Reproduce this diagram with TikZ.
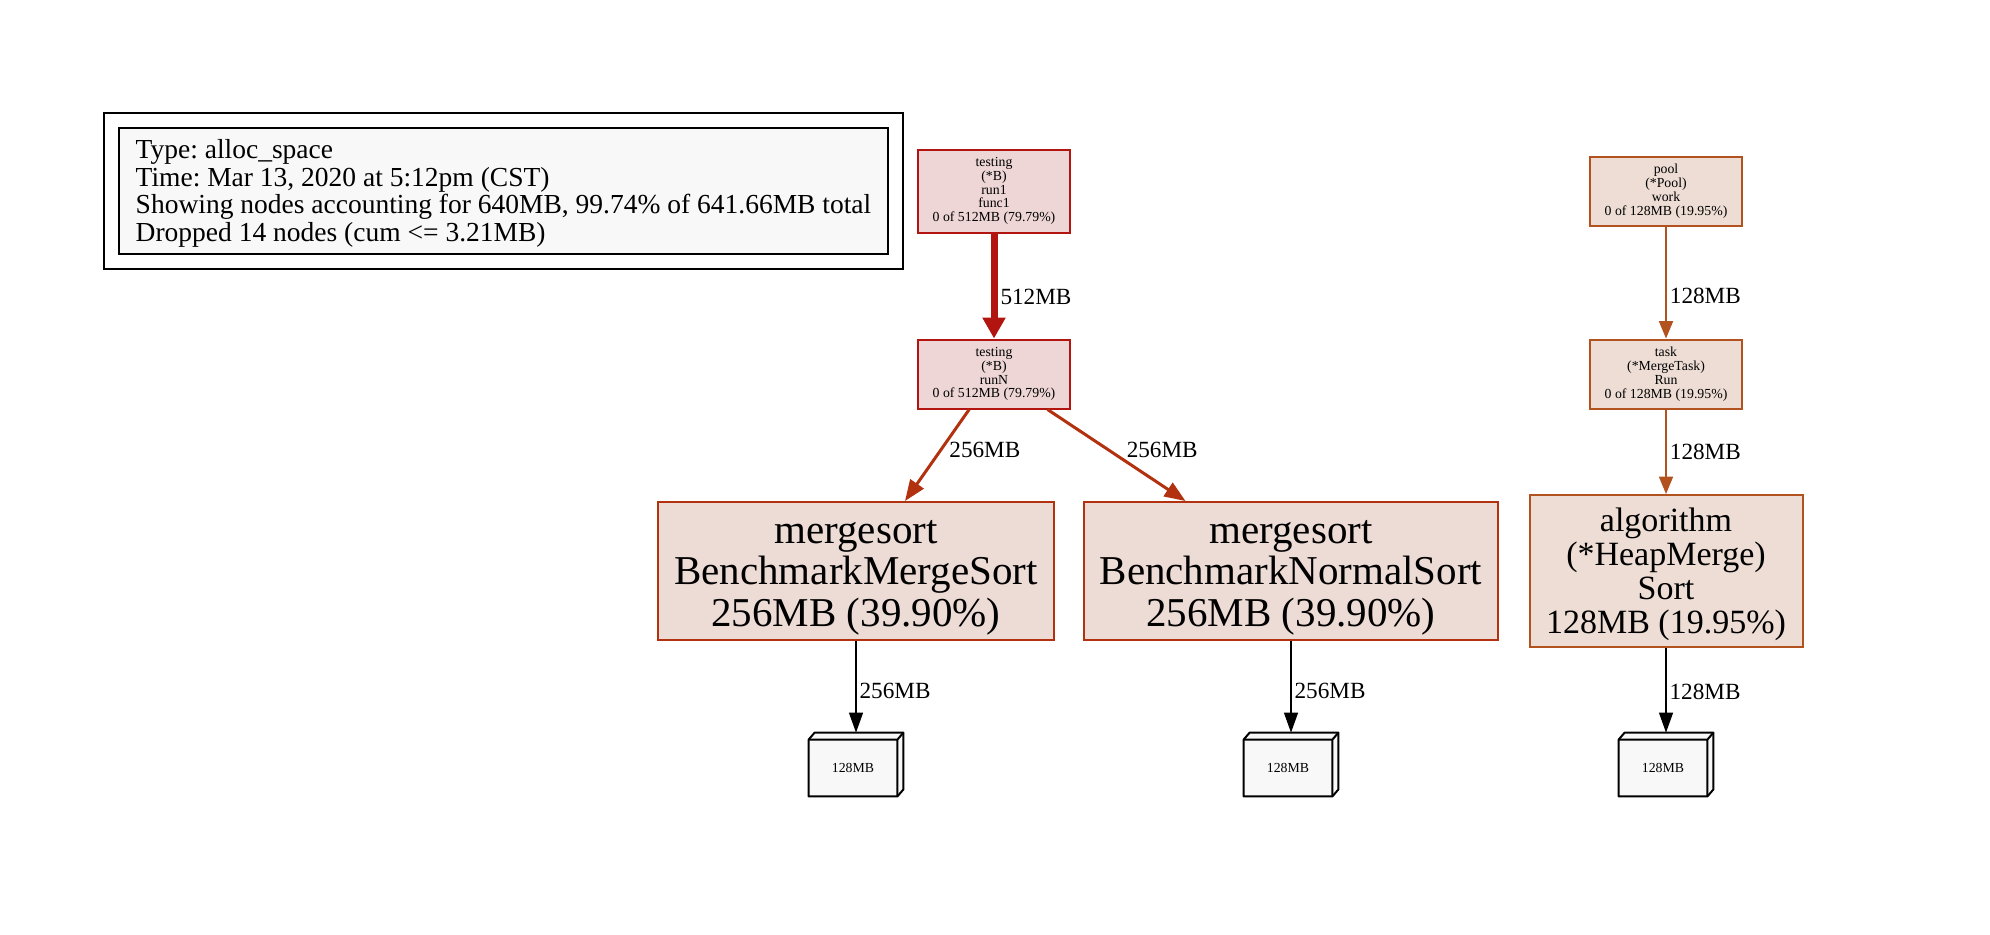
\documentclass[tikz,border=0pt]{standalone}
\usepackage{fontspec}
\setmainfont{Liberation Serif}
\usetikzlibrary{arrows.meta,fit}
\frenchspacing

\definecolor{hotred}{HTML}{B2140F}
\definecolor{hotfill}{HTML}{EDD6D5}
\definecolor{warmred}{HTML}{B2310E}
\definecolor{warmfill}{HTML}{EDDBD5}
\definecolor{mildred}{HTML}{B2531F}
\definecolor{mildfill}{HTML}{EDDDD5}
\definecolor{boxgray}{HTML}{F8F8F8}

\begin{document}
\begin{tikzpicture}[x=0.5pt,y=-0.5pt,node distance=91.5pt,
    small node/.style={line width=1pt,align=center,minimum width=76pt,minimum height=34.5pt,
        inner sep=2pt,font=\fontsize{6.9}{6.9}\selectfont},
    big node/.style={line width=1pt,align=center,minimum height=69pt,inner sep=2pt,
        font=\fontsize{20.5}{20.8}\selectfont},
    hot/.style={draw=hotred,fill=hotfill},
    warm/.style={draw=warmred,fill=warmfill},
    mild/.style={draw=mildred,fill=mildfill},
    leaf/.style={minimum width=47pt,minimum height=31.5pt,inner sep=0pt,
        font=\fontsize{6.9}{6.9}\selectfont},
    hot edge/.style={draw=hotred,line width=3.5pt,-{Triangle[length=10.5pt,width=11pt]}},
    warm edge/.style={draw=warmred,line width=1.5pt,-{Triangle[length=10.5pt,width=8pt]}},
    mild edge/.style={draw=mildred,line width=0.9pt,-{Triangle[length=8.7pt,width=7pt]}},
    plain edge/.style={draw=black,line width=0.6pt,-{Triangle[length=10pt,width=7pt]}}]

    \useasboundingbox (0,0) rectangle (1990,934);

    % Legend
    \node[draw,fill=boxgray,line width=1pt,align=left,minimum width=384.5pt,
          minimum height=62pt,font=\fontsize{13.75}{13.9}\selectfont] (legend) at (503.5,191)
        {\rule{0pt}{11.9pt}Type: alloc\_space\\Time: Mar 13, 2020 at 5:12pm (CST)\\
         Showing nodes accounting for 640MB, 99.74\% of 641.66MB total\\
         Dropped 14 nodes (cum <= 3.21MB)};
    \node[draw,line width=1pt,fit=(legend),inner sep=7pt] (legendframe) {};

    % Define vertices
    \node[small node,hot,minimum height=41.5pt] (func1) at (994,191)
        {testing\\(*B)\\run1\\func1\\0 of 512MB (79.79\%)};
    \node[small node,hot] (runN) [below of=func1]
        {testing\\(*B)\\runN\\0 of 512MB (79.79\%)};
    \node[big node,warm,minimum width=198pt] (msort) at (856,571)
        {\rule{0pt}{18.3pt}mergesort\\BenchmarkMergeSort\\256MB (39.90\%)};
    \node[big node,warm,minimum width=207pt] (nsort) at (1291,571)
        {\rule{0pt}{18.3pt}mergesort\\BenchmarkNormalSort\\256MB (39.90\%)};
    \node[small node,mild] (pool) at (1666,191)
        {pool\\(*Pool)\\work\\0 of 128MB (19.95\%)};
    \node[small node,mild] (task) [below of=pool]
        {task\\(*MergeTask)\\Run\\0 of 128MB (19.95\%)};
    \node[big node,mild,minimum width=136.5pt,minimum height=76pt,
          font=\fontsize{17}{16.9}\selectfont] (heap) [below of=task,node distance=98.5pt]
        {\rule{0pt}{15pt}algorithm\\(*HeapMerge)\\Sort\\128MB (19.95\%)};
    \node[leaf] (leafA) [below of=msort,node distance=96.75pt] {};
    \node[leaf] (leafB) [below of=nsort,node distance=96.75pt] {};
    \node[leaf] (leafC) [below of=heap,node distance=96.75pt] {};

    % Draw the boxes
    \foreach \l in {leafA,leafB,leafC} {
        \filldraw[fill=boxgray,line width=1pt,line join=round]
            ([shift={(0,7)}]\l.north west) -- ([shift={(6,0)}]\l.north west) -- (\l.north east)
            -- ([shift={(0,-7)}]\l.south east) -- ([shift={(-6,0)}]\l.south east)
            -- (\l.south west) -- cycle;
        \draw[line width=1pt,line join=round] ([shift={(0,7)}]\l.north west)
            -- ([shift={(-6,7)}]\l.north east) -- (\l.north east)
            ([shift={(-6,7)}]\l.north east) -- ([shift={(-6,0)}]\l.south east);
        \node[font=\fontsize{6.9}{6.9}\selectfont] at ([shift={(-3,3.5)}]\l.center) {128MB};
    }

    % Draw edges
    \path[every node/.style={font=\fontsize{11.6}{11.6}\selectfont,anchor=west,inner sep=1.5pt}]
        (func1) edge[hot edge] node[pos=.6] {512MB} (runN)
        (runN) edge[warm edge] node[pos=.44,xshift=2pt] {256MB} (msort)
        (runN) edge[warm edge] node[pos=.44,xshift=7pt] {256MB} (nsort)
        (pool) edge[mild edge] node[pos=.62] {128MB} (task)
        (task) edge[mild edge] node[pos=.5] {128MB} (heap)
        (msort) edge[plain edge] node[pos=.55] {256MB} (leafA)
        (nsort) edge[plain edge] node[pos=.55] {256MB} (leafB)
        (heap) edge[plain edge] node[pos=.52] {128MB} (leafC);

\end{tikzpicture}
\end{document}
